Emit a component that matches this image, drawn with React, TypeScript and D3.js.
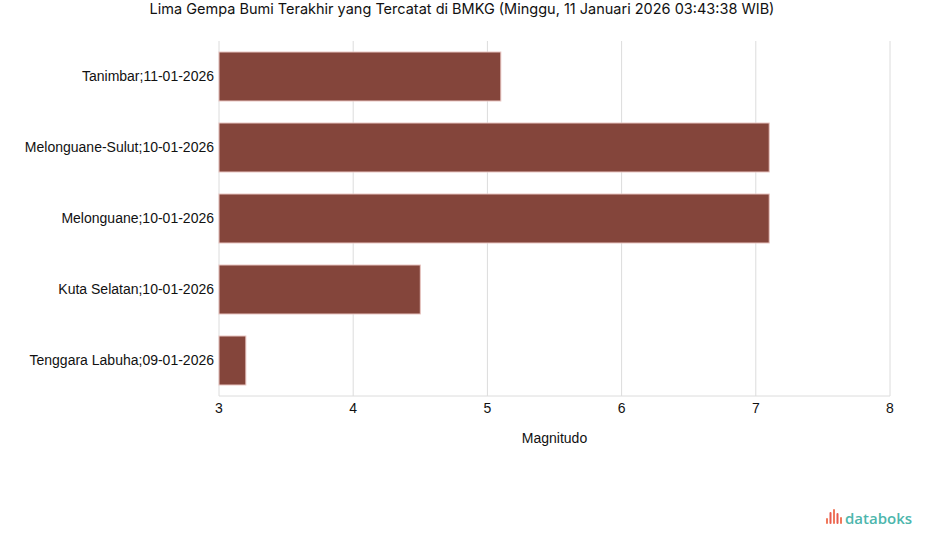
import React from "react";
import * as d3 from "d3";

const categories = [
  "Tanimbar;11-01-2026",
  "Melonguane-Sulut;10-01-2026",
  "Melonguane;10-01-2026",
  "Kuta Selatan;10-01-2026",
  "Tenggara Labuha;09-01-2026",
];
const magnitudes = [5.1, 7.1, 7.1, 4.5, 3.2];
const xTicks = [3, 4, 5, 6, 7, 8];
const title = "Lima Gempa Bumi Terakhir yang Tercatat di BMKG (Minggu, 11 Januari 2026 03:43:38 WIB)";
const xLabel = "Magnitudo";

export default function App() {
  const W = 925, H = 547;
  const left = 219, right = 890, top = 41, bottom = 396;
  const x = d3.scaleLinear().domain([3, 8]).range([left, right]);
  const y = d3.scaleBand<string>().domain(categories).range([top, bottom]).paddingInner(0.31).paddingOuter(0.155);
  const font = "'Liberation Sans', Arial, sans-serif";
  const titleFont = "Inter, Roboto, sans-serif";
  const logoBars = [
    { dx: 0, h: 6, c: "#f0785a" },
    { dx: 3.5, h: 12, c: "#e85a4f" },
    { dx: 7, h: 15, c: "#f0785a" },
    { dx: 10.5, h: 11, c: "#e85a4f" },
    { dx: 14, h: 7, c: "#f0785a" },
  ];
  return (
    <svg width={W} height={H} style={{ position: "absolute", left: 0, top: 0, background: "#fff" }}>
      <text x={462} y={14} textAnchor="middle" fontFamily={titleFont} fontSize={14.5} fill="#111">{title}</text>
      {xTicks.map((t) => (
        <line key={"g" + t} x1={x(t)} x2={x(t)} y1={top} y2={bottom} stroke="#dcdcdc" strokeWidth={1} />
      ))}
      <line x1={left} x2={right} y1={bottom} y2={bottom} stroke="#dcdcdc" />
      {categories.map((c, i) => (
        <rect key={c} x={x(3)} y={y(c)!} width={x(magnitudes[i]) - x(3)} height={y.bandwidth()}
          fill="#84453b" stroke="#e8c4c0" strokeWidth={1} />
      ))}
      {categories.map((c) => (
        <text key={"l" + c} x={left - 5} y={y(c)! + y.bandwidth() / 2} dy="0.35em" textAnchor="end"
          fontFamily={font} fontSize={14} fill="#111">{c}</text>
      ))}
      {xTicks.map((t) => (
        <text key={"t" + t} x={x(t)} y={413} textAnchor="middle" fontFamily={font} fontSize={14} fill="#111">{t}</text>
      ))}
      <text x={(left + right) / 2} y={443} textAnchor="middle" fontFamily={font} fontSize={14} fill="#111">{xLabel}</text>
      <g transform="translate(826,524)">
        {logoBars.map((b, i) => (
          <rect key={i} x={b.dx} y={-b.h} width={2} height={b.h} fill={b.c} rx={1} />
        ))}
        <text x={19} y={0} fontFamily="'Open Sans', sans-serif" fontSize={15} fontWeight={600} fill="#4db6ac">databoks</text>
      </g>
    </svg>
  );
}
